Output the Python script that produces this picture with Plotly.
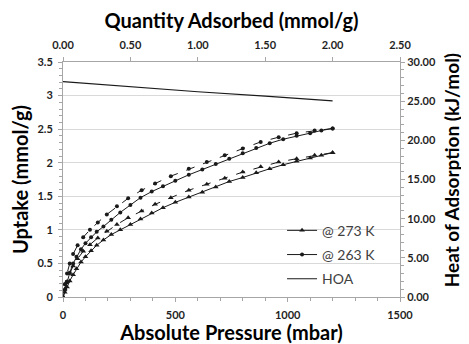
import plotly.graph_objects as go

# 263 K adsorption
p263_ads = [0, 8, 18, 30, 45, 60, 80, 100, 125, 150, 180, 215, 255, 300, 345, 395, 445, 500,
            560, 620, 680, 740, 800, 860, 920, 980, 1040, 1100, 1150, 1200]
u263_ads = [0, 0.10, 0.22, 0.36, 0.50, 0.60, 0.71, 0.80, 0.89, 0.97, 1.05, 1.15, 1.26, 1.37,
            1.48, 1.57, 1.65, 1.73, 1.82, 1.90, 1.98, 2.06, 2.14, 2.22, 2.29, 2.35, 2.40, 2.44, 2.48, 2.51]
# 263 K desorption
p263_des = [1200, 1120, 1040, 960, 880, 800, 720, 640, 560, 480, 410, 350, 290, 240, 195, 155,
            120, 90, 65, 45, 30, 18, 8]
u263_des = [2.51, 2.48, 2.44, 2.38, 2.31, 2.21, 2.11, 2.01, 1.91, 1.80, 1.69, 1.59, 1.47, 1.35,
            1.23, 1.11, 1.00, 0.89, 0.77, 0.64, 0.50, 0.35, 0.19]
# 273 K adsorption
p273_ads = [0, 8, 18, 30, 45, 60, 80, 100, 125, 150, 180, 215, 255, 300, 345, 395, 445, 500,
            560, 620, 680, 740, 800, 860, 920, 980, 1040, 1100, 1150, 1200]
u273_ads = [0, 0.07, 0.15, 0.24, 0.33, 0.42, 0.52, 0.60, 0.69, 0.77, 0.85, 0.93, 1.00, 1.08,
            1.16, 1.25, 1.33, 1.41, 1.49, 1.56, 1.64, 1.72, 1.78, 1.85, 1.91, 1.97, 2.02, 2.07, 2.11, 2.15]
# 273 K desorption
p273_des = [1200, 1120, 1040, 960, 880, 800, 720, 640, 560, 480, 410, 350, 290, 240, 195, 155,
            120, 90, 65, 45, 30, 18, 8]
u273_des = [2.15, 2.11, 2.06, 2.01, 1.94, 1.86, 1.77, 1.68, 1.59, 1.48, 1.38, 1.28, 1.18, 1.08,
            0.98, 0.88, 0.78, 0.68, 0.57, 0.46, 0.35, 0.23, 0.12]
# Heat of adsorption
hoa_q = [0.0, 0.5, 1.0, 1.5, 2.0]
hoa_h = [27.5, 26.85, 26.2, 25.65, 25.05]

FONT = "Lato"
DARK = "#1f1f1f"
LINE = "#1a1a1a"

fig = go.Figure()

fig.add_trace(go.Scatter(x=p273_ads, y=u273_ads, mode="lines+markers", name="@ 273 K",
                         legendgroup="a", line=dict(color=LINE, width=1),
                         marker=dict(symbol="triangle-up", size=5, color=LINE)))
fig.add_trace(go.Scatter(x=p273_des, y=u273_des, mode="lines+markers", showlegend=False,
                         line=dict(color=LINE, width=1, dash="dash"),
                         marker=dict(symbol="triangle-up", size=5, color=LINE)))
fig.add_trace(go.Scatter(x=p263_ads, y=u263_ads, mode="lines+markers", name="@ 263 K",
                         legendgroup="b", line=dict(color=LINE, width=1),
                         marker=dict(symbol="circle", size=4, color=LINE)))
fig.add_trace(go.Scatter(x=p263_des, y=u263_des, mode="lines+markers", showlegend=False,
                         line=dict(color=LINE, width=1, dash="dash"),
                         marker=dict(symbol="circle", size=4, color=LINE)))
fig.add_trace(go.Scatter(x=hoa_q, y=hoa_h, mode="lines", name="HOA", legendgroup="c",
                         xaxis="x2", yaxis="y2", line=dict(color=LINE, width=1.2)))

tickf = dict(family=FONT, size=11, color=DARK, weight="bold")
titlef = dict(family=FONT, size=20, color="#000000", weight="bold")
rtitlef = dict(family=FONT, size=19, color="#000000", weight="bold")
axcol = "#a6a6a6"

fig.update_layout(
    width=461, height=336,
    margin=dict(l=55, r=69, t=54, b=47),
    paper_bgcolor="white", plot_bgcolor="white",
    showlegend=True,
    legend=dict(x=0.65, y=0.35, xanchor="left", yanchor="top", bgcolor="rgba(0,0,0,0)",
                font=dict(family=FONT, size=14, color="#404040"),
                tracegroupgap=3, itemwidth=30),
    xaxis=dict(range=[0, 1500], tickvals=[0, 500, 1000, 1500], tickfont=tickf,
               showgrid=False, zeroline=False, showline=True, linecolor=axcol,
               ticks="outside", ticklen=4, tickcolor=axcol, automargin=False,
               ticklabelstandoff=4,
               minor=dict(dtick=100, ticks="outside", ticklen=3, tickcolor=axcol),
               title=dict(text="Absolute Pressure (mbar)", font=titlef, standoff=0)),
    yaxis=dict(range=[0, 3.5], dtick=0.5, tickfont=tickf,
               showgrid=True, gridcolor="#d9d9d9", gridwidth=1, zeroline=False,
               showline=True, linecolor=axcol, ticks="outside", ticklen=4, tickcolor=axcol,
               automargin=False, ticklabelstandoff=3,
               minor=dict(dtick=0.1, ticks="outside", ticklen=3, tickcolor=axcol),
               title=dict(text="Uptake (mmol/g)", font=titlef, standoff=5)),
    xaxis2=dict(range=[0, 2.5], dtick=0.5, tickformat=".2f", tickfont=tickf,
                overlaying="x", side="top", showgrid=False, zeroline=False,
                showline=True, linecolor=axcol, ticks="outside", ticklen=4, tickcolor=axcol,
                automargin=False, ticklabelstandoff=4,
                title=dict(text="Quantity Adsorbed (mmol/g)", font=titlef, standoff=5)),
    yaxis2=dict(range=[0, 30], dtick=5, tickformat=".2f", tickfont=tickf,
                overlaying="y", side="right", showgrid=False, zeroline=False,
                showline=True, linecolor=axcol, ticks="outside", ticklen=4, tickcolor=axcol,
                automargin=False,
                minor=dict(dtick=1, ticks="outside", ticklen=3, tickcolor=axcol)),
    annotations=[dict(text="Heat of Adsorption (kJ/mol)", textangle=-90, font=rtitlef,
                      xref="paper", yref="paper", x=1.152, y=0.54,
                      xanchor="center", yanchor="middle", showarrow=False)],
)

fig.write_html("out.html")
